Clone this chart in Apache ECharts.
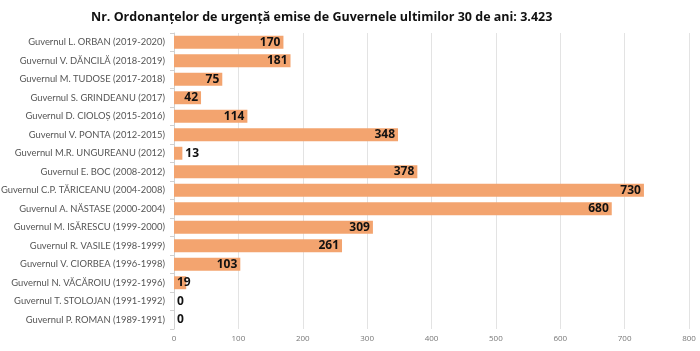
<!DOCTYPE html>
<html lang="ro">
<head>
<meta charset="UTF-8">
<title>Ordonanțe de urgență</title>
<script src="https://cdn.jsdelivr.net/npm/echarts@6/dist/echarts.min.js"></script>
<style>
  html, body { margin: 0; padding: 0; background: #ffffff; }
  #chart { width: 700px; height: 351px; }
</style>
</head>
<body>
<div id="chart"></div>
<script>
// guvernele, de sus in jos
var guverne = [
    'Guvernul L. ORBAN (2019-2020)',
    'Guvernul V. DĂNCILĂ (2018-2019)',
    'Guvernul M. TUDOSE (2017-2018)',
    'Guvernul S. GRINDEANU (2017)',
    'Guvernul D. CIOLOȘ (2015-2016)',
    'Guvernul V. PONTA (2012-2015)',
    'Guvernul M.R. UNGUREANU (2012)',
    'Guvernul E. BOC (2008-2012)',
    'Guvernul C.P. TĂRICEANU (2004-2008)',
    'Guvernul A. NĂSTASE (2000-2004)',
    'Guvernul M. ISĂRESCU (1999-2000)',
    'Guvernul R. VASILE (1998-1999)',
    'Guvernul V. CIORBEA (1996-1998)',
    'Guvernul N. VĂCĂROIU (1992-1996)',
    'Guvernul T. STOLOJAN (1991-1992)',
    'Guvernul P. ROMAN (1989-1991)'
];
var ordonante = [170, 181, 75, 42, 114, 348, 13, 378, 730, 680, 309, 261, 103, 19, 0, 0];
var axaTicks = [0, 100, 200, 300, 400, 500, 600, 700, 800];

var fontF = '"Open Sans", "Liberation Sans", sans-serif';

var date = ordonante.map(function (v) {
    var pos = 'insideRight';
    if (v < 15) pos = 'right';
    else if (v < 30) pos = 'insideLeft';
    return { value: v, label: { position: pos } };
});

var option = {
    animation: false,
    title: {
        text: 'Nr. Ordonanțelor de urgență emise de Guvernele ultimilor 30 de ani: 3.423',
        left: 86,
        top: 6,
        textStyle: { fontFamily: fontF, fontSize: 12.5, fontWeight: 'bold', color: '#111' }
    },
    grid: { left: 174, right: 11, top: 33, bottom: 22, outerBoundsMode: 'none' },
    xAxis: {
        type: 'value',
        min: axaTicks[0],
        max: axaTicks[axaTicks.length - 1],
        interval: 100,
        axisLine: { show: false },
        axisTick: { show: false },
        axisLabel: { fontFamily: fontF, fontSize: 8, color: '#777', margin: 6 },
        splitLine: { lineStyle: { color: '#e3e3e3' } }
    },
    yAxis: {
        type: 'category',
        inverse: true,
        data: guverne,
        axisLine: { lineStyle: { color: '#d0d0d0' } },
        axisTick: { show: true, length: 4, lineStyle: { color: '#d0d0d0' } },
        axisLabel: { fontFamily: 'Lato, "Open Sans", sans-serif', fontSize: 9.4, color: '#555', margin: 9 }
    },
    series: [{
        type: 'bar',
        data: date,
        barCategoryGap: '30%',
        itemStyle: { color: '#F3A46F' },
        label: {
            show: true,
            fontFamily: fontF,
            fontSize: 12,
            fontWeight: 'bold',
            color: '#111',
            distance: 3
        }
    }]
};

var chart = echarts.init(document.getElementById('chart'));
chart.setOption(option);
</script>
</body>
</html>
